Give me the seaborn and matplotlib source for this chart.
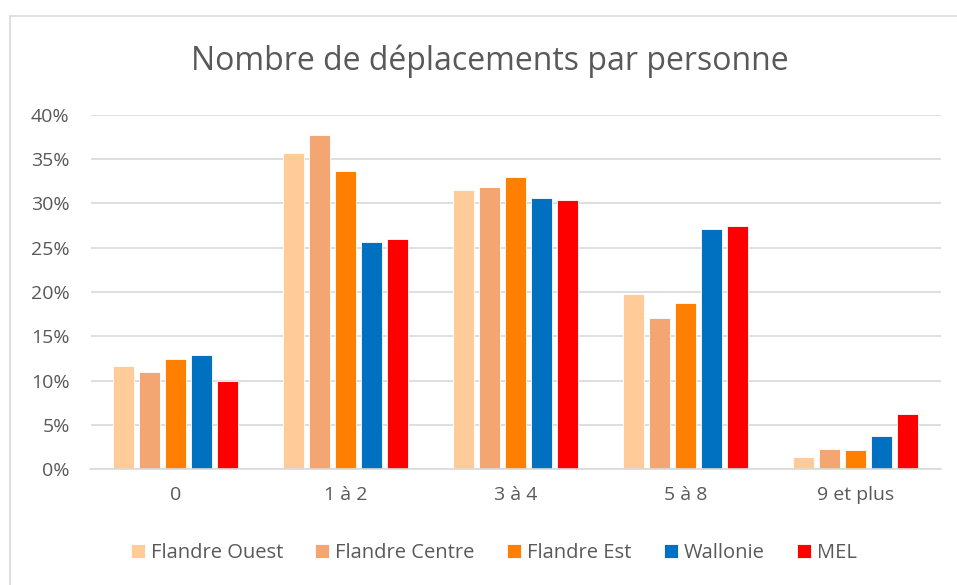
import pandas as pd
import seaborn as sns
import matplotlib.pyplot as plt
from matplotlib.lines import Line2D
from matplotlib.ticker import PercentFormatter

categories = ['0', '1 à 2', '3 à 4', '5 à 8', '9 et plus']
regions = ['Flandre Ouest', 'Flandre Centre', 'Flandre Est', 'Wallonie', 'MEL']
flandre_ouest = [11.6, 35.7, 31.5, 19.8, 1.3]
flandre_centre = [11.0, 37.7, 31.9, 17.1, 2.3]
flandre_est = [12.4, 33.7, 33.0, 18.8, 2.1]
wallonie = [12.9, 25.6, 30.6, 27.1, 3.7]
mel = [9.9, 26.0, 30.4, 27.5, 6.2]
colors = ['#FFCC99', '#F4A672', '#FF8000', '#0070C0', '#FF0000']

series = [flandre_ouest, flandre_centre, flandre_est, wallonie, mel]
rows = []
for name, vals in zip(regions, series):
    for cat, v in zip(categories, vals):
        rows.append({'cat': cat, 'region': name, 'val': v / 100})
data = pd.DataFrame(rows)

sns.set_style("white")
plt.rcParams['font.family'] = ['Open Sans', 'DejaVu Sans']
txt = '#595959'

fig = plt.figure(figsize=(9.57, 5.85), dpi=100)
ax = fig.add_axes([90.5 / 957, 1 - 469 / 585, 850 / 957, 354 / 585])
sns.barplot(data=data, x='cat', y='val', hue='region', palette=colors,
            width=0.765, gap=0.2, ax=ax, legend=True, saturation=1,
            edgecolor='white', linewidth=0.6)

ax.set_ylim(0, 0.40)
ax.set_yticks([i * 0.05 for i in range(9)])
ax.yaxis.set_major_formatter(PercentFormatter(1.0, decimals=0))
ax.grid(axis='y', color='#d9d9d9', linewidth=1.2)
ax.set_axisbelow(True)
for s in ['top', 'right', 'left']:
    ax.spines[s].set_visible(False)
ax.spines['bottom'].set_color('#d9d9d9')
ax.spines['bottom'].set_linewidth(1.2)
ax.set_xlabel('')
ax.set_ylabel('')
ax.tick_params(axis='both', length=0, labelsize=14, labelcolor=txt)
ax.tick_params(axis='y', pad=15)
ax.tick_params(axis='x', pad=12)

handles, labels = ax.get_legend_handles_labels()
ax.get_legend().remove()
fig.legend(handles, labels, loc='center', bbox_to_anchor=(0.516, 1 - 553 / 585),
           ncol=5, frameon=False, fontsize=14.5, labelcolor=txt,
           handlelength=0.7, handleheight=0.7, handletextpad=0.3,
           columnspacing=1.6)

fig.text(0.512, 1 - 61 / 585, 'Nombre de déplacements par personne',
         ha='center', va='center', fontsize=23, color=txt)

fig.add_artist(Line2D([9.5 / 957, 1], [1 - 15.5 / 585] * 2, color='#d9d9d9', lw=1.2))
fig.add_artist(Line2D([9.5 / 957] * 2, [0, 1 - 15.5 / 585], color='#d9d9d9', lw=1.2))

plt.savefig('out.png', dpi=100)
